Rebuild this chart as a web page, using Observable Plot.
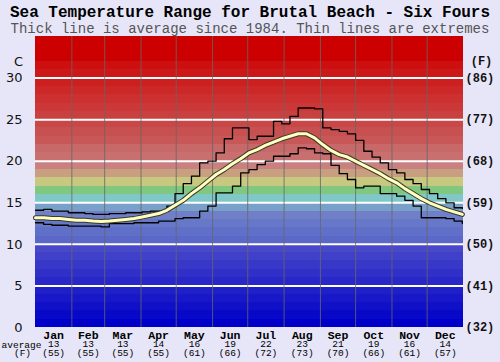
<!DOCTYPE html>
<html><head><meta charset="utf-8">
<script src="https://cdn.jsdelivr.net/npm/d3@7"></script>
<script src="https://cdn.jsdelivr.net/npm/@observablehq/plot@0.6"></script>
<style>
body{margin:0;background:#e6e6f8;width:500px;height:362px;overflow:hidden}
#head{position:relative;height:34px;}
#title{position:absolute;top:4px;left:0;width:500px;text-align:center;font:bold 16px "Liberation Mono",monospace;line-height:18px;color:#000;white-space:nowrap}
#sub{position:absolute;top:21px;left:0;width:500px;text-align:center;font:14px "Liberation Mono",monospace;line-height:16px;color:#555;white-space:nowrap}
</style></head>
<body>
<div id="head"><div id="title">Sea Temperature Range for Brutal Beach - Six Fours</div><div id="sub">Thick line is average since 1984. Thin lines are extremes</div></div>
<div id="chart"></div>
<script>
// Months and monthly averages
const months = ["Jan","Feb","Mar","Apr","May","Jun","Jul","Aug","Sep","Oct","Nov","Dec"];
const monthStartDays = [0,31,59,90,120,151,181,212,243,273,304,334,365];
const monthAvgC = [13,13,13,14,16,19,22,23,21,19,16,14];
const monthAvgF = [55,55,55,55,61,66,72,73,70,66,61,57];

// Weekly values (week i starts at day 7*i), degrees C
const avgTemp = [13.2,13.2,13.1,13.1,13.0,12.9,12.9,12.8,12.75,12.8,12.9,13.0,13.1,13.3,13.5,13.7,14.1,14.7,15.3,16.1,16.8,17.6,18.4,19.0,19.7,20.3,21.0,21.4,21.9,22.3,22.7,23.0,23.3,23.3,22.8,22.0,21.3,20.8,20.5,20.0,19.5,19.0,18.5,17.9,17.4,16.7,16.1,15.5,15.0,14.6,14.2,13.9,13.6];
const maxTemp = [14.1,14.2,14.0,14.0,13.8,13.8,13.7,13.6,13.6,13.7,13.7,13.8,13.8,13.9,14.0,14.0,14.6,16.1,17.3,18.2,19.8,20.0,21.0,22.7,24.0,24.0,22.6,23.0,23.0,24.8,24.5,25.4,26.4,26.4,26.3,24.0,23.8,23.6,23.3,22.5,21.2,20.5,19.8,19.0,18.6,17.8,17.3,16.6,16.1,15.5,15.0,14.4,14.3];
const minTemp = [12.6,12.4,12.3,12.3,12.2,12.2,12.2,12.2,12.1,12.5,12.5,12.5,12.6,12.6,12.6,12.8,12.8,13.1,13.2,13.2,14.0,14.6,16.2,16.2,17.0,18.6,19.0,19.6,20.0,20.6,20.6,20.9,21.6,21.5,21.0,20.9,19.5,18.5,17.8,16.8,17.0,17.0,16.1,16.1,15.8,15.3,14.6,13.2,13.2,13.2,13.1,12.8,12.5];

// Tick labels
const ticksC = [0,5,10,15,20,25,30];
const ticksF = ["(32)","(41)","(50)","(59)","(68)","(77)","(86)"];

// Background colour bands, one per degree from 0 upward
const bandColors = ["#0000c8","#0808c8","#1010c8","#1818c8","#2020c8","#2828c8","#3030c8","#3838c8","#4040c8","#4848c8",
  "#5c68c8","#6070c8","#6878c8","#7080c8","#78a0c8","#80c8c8","#80c880","#c8c880","#c8a080","#c88080",
  "#c87070","#c86868","#c85858","#c85050","#c84848","#c84040","#cc3838","#cc3030","#cc2828","#cc2020",
  "#cc1818","#cc1010","#cc0000","#cc0000","#cc0000"];
const bandLows = bandColors.map((c,i)=>i);

const rows = avgTemp.map((v,i)=>({day:i*7, avg:v, max:maxTemp[i], min:minTemp[i]}));
const mids = months.map((m,i)=>(monthStartDays[i]+monthStartDays[i+1])/2);
const mono = "Liberation Mono, monospace";

const chart = Plot.plot({
  width:500, height:328,
  marginLeft:35, marginRight:37, marginTop:2, marginBottom:35,
  x:{domain:[0,365], axis:null},
  y:{domain:[0,35], axis:null},
  style:{background:"transparent", overflow:"visible"},
  marks:[
    Plot.rect(bandLows, {y1:d=>d, y2:d=>d+1, fill:(d,i)=>bandColors[i], shapeRendering:"crispEdges"}),
    Plot.ruleY(ticksC.filter(d=>d>0), {stroke:"white", strokeWidth:2}),
    Plot.ruleX(monthStartDays.slice(1,-1), {stroke:"#666", strokeWidth:1, strokeOpacity:0.8}),
    Plot.line(rows, {x:"day", y:"max", curve:"step-after", stroke:"#000", strokeWidth:1.3}),
    Plot.line(rows, {x:"day", y:"min", curve:"step-after", stroke:"#000", strokeWidth:1.3}),
    Plot.line(rows, {x:"day", y:"avg", stroke:"#3a3a2a", strokeWidth:5}),
    Plot.line(rows, {x:"day", y:"avg", stroke:"#ffffc0", strokeWidth:3}),
    // left axis
    Plot.text(ticksC, {y:d=>d, text:d=>String(d), frameAnchor:"left", dx:-13, textAnchor:"end", lineAnchor:"middle", fontSize:13, fontFamily:"DejaVu Sans, sans-serif", fill:"#111"}),
    Plot.text(["C"], {frameAnchor:"top-left", dx:-17, dy:25, textAnchor:"middle", lineAnchor:"middle", text:d=>d, fontSize:13, fontFamily:"DejaVu Sans, sans-serif", fill:"#111"}),
    // right axis
    Plot.text(ticksC, {y:d=>d, text:(d,i)=>ticksF[i], frameAnchor:"right", dx:2, textAnchor:"start", lineAnchor:"middle", fontSize:12, fontWeight:"bold", fontFamily:mono, fill:"#111"}),
    Plot.text(["(F)"], {frameAnchor:"top-right", dx:18, dy:25, textAnchor:"middle", lineAnchor:"middle", text:d=>d, fontSize:12, fontWeight:"bold", fontFamily:mono, fill:"#111"}),
    // bottom month labels
    Plot.text(months, {x:(d,i)=>mids[i], frameAnchor:"bottom", dy:7.5, lineAnchor:"middle", text:d=>d, fontSize:11.5, fontWeight:"bold", fontFamily:mono, fill:"#000"}),
    Plot.text(monthAvgC, {x:(d,i)=>mids[i], frameAnchor:"bottom", dy:16.5, lineAnchor:"middle", text:d=>String(d), fontSize:9.5, fontFamily:mono, fill:"#000"}),
    Plot.text(monthAvgF, {x:(d,i)=>mids[i], frameAnchor:"bottom", dy:25, lineAnchor:"middle", text:d=>`(${d})`, fontSize:9.5, fontFamily:mono, fill:"#000"}),
    Plot.text(["average"], {frameAnchor:"bottom-left", dx:-14, dy:17, textAnchor:"middle", lineAnchor:"middle", text:d=>d, fontSize:9.5, fontFamily:mono, fill:"#000"}),
    Plot.text(["(F)"], {frameAnchor:"bottom-left", dx:-13, dy:25, textAnchor:"middle", lineAnchor:"middle", text:d=>d, fontSize:9.5, fontFamily:mono, fill:"#000"})
  ]
});
document.getElementById("chart").appendChild(chart);
</script>
</body></html>
